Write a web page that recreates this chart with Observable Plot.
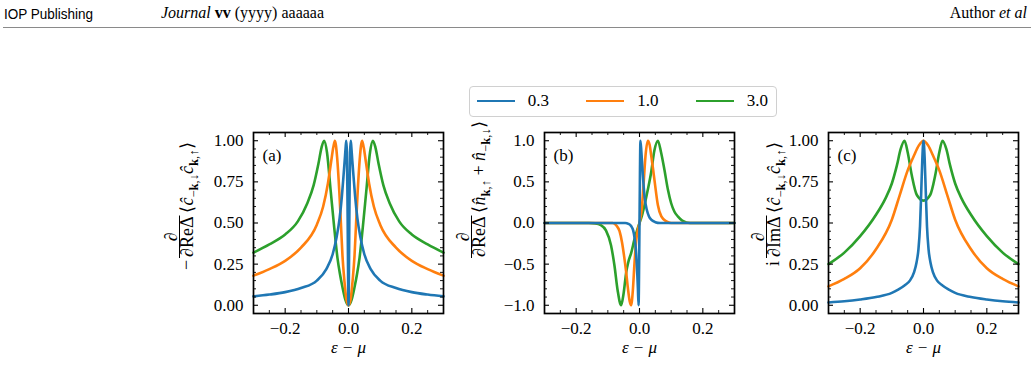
<!DOCTYPE html>
<html><head><meta charset="utf-8">
<script src="https://cdn.jsdelivr.net/npm/d3@7"></script>
<script src="https://cdn.jsdelivr.net/npm/@observablehq/plot@0.6"></script>
<style>
html,body{margin:0;padding:0;background:#fff;}
#page{position:relative;width:1034px;height:391px;overflow:hidden;font-family:"Liberation Serif",serif;color:#000;}
.abs{position:absolute;white-space:nowrap;}
#page svg{overflow:visible}
#page svg text{font-family:"Liberation Serif",serif;}
</style></head><body><div id="page"></div>
<script>
// ---------- data ----------
const seriesNames = ["0.3", "1.0", "3.0"];
const seriesColors = ["#1f77b4", "#ff7f0e", "#2ca02c"];

const xMajor = [-0.2, 0, 0.2];
const xMinor = [-0.25, -0.15, -0.1, -0.05, 0.05, 0.1, 0.15, 0.25];
const yMajorAC = [0, 0.25, 0.5, 0.75, 1];
const yMinorAC = [0.05,0.1,0.15,0.2,0.3,0.35,0.4,0.45,0.55,0.6,0.65,0.7,0.8,0.85,0.9,0.95];
const yMajorB = [-1, -0.5, 0, 0.5, 1];
const yMinorB = [-0.9,-0.8,-0.7,-0.6,-0.4,-0.3,-0.2,-0.1,0.1,0.2,0.3,0.4,0.6,0.7,0.8,0.9];

// panel (a)
const aBlueX = [-0.3,-0.25,-0.2,-0.15,-0.1,-0.07,-0.05,-0.037,-0.028,-0.021,-0.016,-0.012,-0.009,-0.007,-0.005,-0.003,0,0.003,0.005,0.007,0.009,0.012,0.016,0.021,0.028,0.037,0.05,0.07,0.1,0.15,0.2,0.25,0.3];
const aBlueY = [0.054,0.065,0.08,0.105,0.15,0.22,0.31,0.42,0.53,0.66,0.78,0.88,0.96,1.0,0.93,0.6,0,0.6,0.93,1.0,0.96,0.88,0.78,0.66,0.53,0.42,0.31,0.22,0.15,0.105,0.08,0.065,0.054];
const aOrangeX = [-0.3,-0.25,-0.2,-0.15,-0.1,-0.08,-0.065,-0.055,-0.048,-0.043,-0.036,-0.029,-0.024,-0.019,-0.013,-0.007,0,0.007,0.013,0.019,0.024,0.029,0.036,0.043,0.048,0.055,0.065,0.08,0.1,0.15,0.2,0.25,0.3];
const aOrangeY = [0.18,0.22,0.27,0.35,0.49,0.6,0.74,0.87,0.96,1.0,0.9,0.69,0.5,0.3,0.15,0.04,0,0.04,0.15,0.3,0.5,0.69,0.9,1.0,0.96,0.87,0.74,0.6,0.49,0.35,0.27,0.22,0.18];
const aGreenX = [-0.3,-0.25,-0.2,-0.16,-0.13,-0.11,-0.095,-0.085,-0.077,-0.068,-0.056,-0.045,-0.035,-0.027,-0.019,-0.01,0,0.01,0.019,0.027,0.035,0.045,0.056,0.068,0.077,0.085,0.095,0.11,0.13,0.16,0.2,0.25,0.3];
const aGreenY = [0.32,0.37,0.43,0.51,0.62,0.73,0.86,0.96,1.0,0.93,0.69,0.47,0.29,0.19,0.11,0.035,0,0.035,0.11,0.19,0.29,0.47,0.69,0.93,1.0,0.96,0.86,0.73,0.62,0.51,0.43,0.37,0.32];

// panel (b)
const bBlueX = [-0.3,-0.045,-0.035,-0.026,-0.02,-0.016,-0.012,-0.0095,-0.007,-0.005,-0.003,0,0.003,0.006,0.0106,0.016,0.023,0.03,0.037,0.05,0.065,0.3];
const bBlueY = [0,0,-0.01,-0.04,-0.09,-0.17,-0.3,-0.44,-0.62,-0.8,-1.0,0,1.0,0.86,0.58,0.32,0.16,0.08,0.04,0.01,0,0];
const bOrangeX = [-0.3,-0.085,-0.073,-0.063,-0.055,-0.048,-0.042,-0.037,-0.031,-0.0265,-0.021,-0.016,-0.0106,-0.005,0,0.0074,0.0127,0.019,0.0265,0.032,0.037,0.043,0.048,0.058,0.069,0.085,0.1,0.3];
const bOrangeY = [0,0,-0.03,-0.1,-0.24,-0.42,-0.6,-0.78,-0.95,-1.0,-0.82,-0.5,-0.22,-0.08,0,0.18,0.46,0.82,1.0,0.95,0.82,0.65,0.5,0.22,0.08,0.02,0,0];
const bGreenX = [-0.3,-0.16,-0.14,-0.122,-0.106,-0.09,-0.079,-0.069,-0.058,-0.05,-0.042,-0.035,-0.026,-0.016,-0.007,0,0.007,0.016,0.026,0.037,0.047,0.058,0.068,0.079,0.09,0.1,0.11,0.121,0.135,0.16,0.3];
const bGreenY = [0,0,-0.005,-0.025,-0.09,-0.27,-0.52,-0.82,-1.0,-0.85,-0.6,-0.47,-0.36,-0.2,-0.08,0,0.08,0.22,0.4,0.62,0.88,1.0,0.86,0.64,0.4,0.24,0.14,0.08,0.03,0,0];

// panel (c)
const cBlueX = [-0.3,-0.25,-0.2,-0.15,-0.1,-0.08,-0.06,-0.043,-0.03,-0.022,-0.016,-0.011,-0.007,-0.0035,0,0.0035,0.007,0.011,0.016,0.022,0.03,0.043,0.06,0.08,0.1,0.15,0.2,0.25,0.3];
const cBlueY = [0.017,0.024,0.035,0.05,0.075,0.095,0.12,0.15,0.2,0.26,0.34,0.48,0.7,0.9,1.0,0.9,0.7,0.48,0.34,0.26,0.2,0.15,0.12,0.095,0.075,0.05,0.035,0.024,0.017];
const cOrangeX = [-0.3,-0.25,-0.2,-0.15,-0.1,-0.075,-0.05,-0.03,-0.015,0,0.015,0.03,0.05,0.075,0.1,0.15,0.2,0.25,0.3];
const cOrangeY = [0.115,0.16,0.225,0.34,0.52,0.67,0.82,0.91,0.97,1.0,0.97,0.91,0.82,0.67,0.52,0.34,0.225,0.16,0.115];
const cGreenX = [-0.3,-0.25,-0.2,-0.15,-0.12,-0.1,-0.084,-0.072,-0.06,-0.05,-0.037,-0.021,0,0.021,0.037,0.05,0.06,0.072,0.084,0.1,0.12,0.15,0.2,0.25,0.3];
const cGreenY = [0.25,0.32,0.42,0.55,0.65,0.74,0.85,0.95,1.0,0.93,0.79,0.67,0.636,0.67,0.79,0.93,1.0,0.95,0.85,0.74,0.65,0.55,0.42,0.32,0.25];

// ---------- drawing ----------
const page = d3.select("#page");
const FONT = "Liberation Serif";

function pts(xs, ys) { return xs.map((x, i) => ({x, y: ys[i]})); }

function panel({left, yDomain, yMajor, yMinor, yFmt, lines, tag}) {
  const W = 300, H = 270, mL = 100, mR = 10, mT = 32, mB = 57;
  const pw = W - mL - mR, ph = H - mT - mB;
  const marks = [];
  for (let k = lines.length - 1; k >= 0; k--) {
    const [xs, ys] = lines[k];
    marks.push(Plot.line(pts(xs, ys), {x: "x", y: "y", stroke: seriesColors[k], strokeWidth: 2.6, curve: "monotone-x"}));
  }
  marks.push(
    Plot.tickX(xMajor, {insetTop: ph - 5, strokeWidth: 1.1}),
    Plot.tickX(xMajor, {insetBottom: ph - 5, strokeWidth: 1.1}),
    Plot.tickX(xMinor, {insetTop: ph - 3, strokeWidth: 0.9}),
    Plot.tickX(xMinor, {insetBottom: ph - 3, strokeWidth: 0.9}),
    Plot.tickY(yMajor, {insetRight: pw - 5, strokeWidth: 1.1}),
    Plot.tickY(yMajor, {insetLeft: pw - 5, strokeWidth: 1.1}),
    Plot.tickY(yMinor, {insetRight: pw - 3, strokeWidth: 0.9}),
    Plot.tickY(yMinor, {insetLeft: pw - 3, strokeWidth: 0.9}),
    Plot.frame({stroke: "#000", strokeWidth: 1.7}),
    Plot.axisX(xMajor, {tickSize: 0, tickPadding: 8, tickFormat: d3.format(".1f"), label: null, fontSize: 17}),
    Plot.axisY(yMajor, {tickSize: 0, tickPadding: 10, tickFormat: d3.format(yFmt), label: null, fontSize: 17}),
    Plot.text([tag], {frameAnchor: "top-left", dx: 9, dy: 16, textAnchor: "start", fontSize: 17}),
    Plot.text(["ε − μ"], {frameAnchor: "bottom", dy: 39, fontStyle: "italic", fontSize: 17})
  );
  const chart = Plot.plot({
    width: W, height: H, marginLeft: mL, marginRight: mR, marginTop: mT, marginBottom: mB,
    x: {domain: [-0.3, 0.3]}, y: {domain: yDomain},
    style: {fontFamily: FONT, fontSize: "17px", background: "transparent", color: "#000"},
    marks
  });
  page.append("div").attr("class", "abs").style("left", left + "px").style("top", "100px").node().appendChild(chart);
}

panel({left: 152.7, yDomain: [-0.05, 1.05], yMajor: yMajorAC, yMinor: yMinorAC, yFmt: ".2f",
  lines: [[aBlueX, aBlueY], [aOrangeX, aOrangeY], [aGreenX, aGreenY]], tag: "(a)"});
panel({left: 444.3, yDomain: [-1.1, 1.1], yMajor: yMajorB, yMinor: yMinorB, yFmt: ".1f",
  lines: [[bBlueX, bBlueY], [bOrangeX, bOrangeY], [bGreenX, bGreenY]], tag: "(b)"});
panel({left: 728.3, yDomain: [-0.05, 1.05], yMajor: yMajorAC, yMinor: yMinorAC, yFmt: ".2f",
  lines: [[cBlueX, cBlueY], [cOrangeX, cOrangeY], [cGreenX, cGreenY]], tag: "(c)"});

// ---------- header ----------
page.append("div").attr("class", "abs")
  .style("left", "4px").style("top", "5px").style("font-family", '"Liberation Sans Narrow","Liberation Sans",sans-serif')
  .style("font-size", "15px").style("transform", "scaleX(0.9)").style("transform-origin", "0 0").text("IOP Publishing");
page.append("div").attr("class", "abs")
  .style("left", "161px").style("top", "4px").style("font-size", "16px")
  .html('<i>Journal</i> <b>vv</b> (yyyy) aaaaaa');
page.append("div").attr("class", "abs")
  .style("right", "7px").style("top", "4px").style("font-size", "16px")
  .html('Author <i>et al</i>');
page.append("div").attr("class", "abs")
  .style("left", "3px").style("top", "27px").style("width", "1028px").style("height", "1px").style("background", "#8a8a8a");

// ---------- legend ----------
const legend = page.append("div").attr("class", "abs")
  .style("left", "469px").style("top", "86px").style("width", "306px").style("height", "29px")
  .style("border", "1px solid #d0d0d0").style("border-radius", "4px").style("background", "#fff");
seriesNames.forEach((name, i) => {
  const x0 = 6.7 + i * 109.5;
  legend.append("div").attr("class", "abs")
    .style("left", x0 + "px").style("top", "12.5px").style("width", "38px").style("height", "2.6px")
    .style("background", seriesColors[i]);
  legend.append("div").attr("class", "abs")
    .style("left", (x0 + 51) + "px").style("top", "4px").style("font-size", "17px").style("line-height", "20px")
    .text(name);
});

// ---------- rotated y labels ----------
const ov = page.append("svg").attr("class", "abs").attr("width", 1034).attr("height", 391)
  .style("left", "0px").style("top", "0px").style("pointer-events", "none")
  .attr("font-family", FONT).attr("fill", "#000");

function mathText(parent, x, y, parts, size) {
  const t = parent.append("text").attr("x", x).attr("y", y).attr("font-size", size);
  let cur = 0;
  for (const p of parts) {
    const [s, o] = Array.isArray(p) ? p : [p, {}];
    const shift = o.sub ? size * 0.28 : 0;
    const ts = t.append("tspan").text(s).attr("dy", shift - cur);
    cur = shift;
    if (o.sub) ts.attr("font-size", size * 0.7);
    if (o.it) ts.attr("font-style", "italic");
    if (o.b) ts.attr("font-weight", "bold");
  }
  return t;
}

function yLabel({bx, prefix, prefixStart, fracStart, op, bracket}) {
  const cy = 222, S = 18;
  const g = ov.append("g").attr("transform", `translate(${bx},${cy}) rotate(-90)`);
  if (prefix) mathText(g, cy - prefixStart, 0, prefix, S);
  const u1 = cy - fracStart;
  const den = mathText(g, u1, 1, [["∂", {it: true}], op, "Δ"], S);
  const wd = den.node().getComputedTextLength();
  mathText(g, u1 + wd / 2, -15.5, [["∂", {it: true}]], S).attr("text-anchor", "middle");
  g.append("line").attr("x1", u1 - 1).attr("x2", u1 + wd + 1).attr("y1", -12.5).attr("y2", -12.5)
    .attr("stroke", "#000").attr("stroke-width", 1);
  mathText(g, u1 + wd + 4, 1, bracket, S);
}

const brC = ["⟨", ["ĉ", {it: true}], ["−", {sub: true}], ["k", {sub: true, b: true}], [",↓", {sub: true}],
             ["ĉ", {it: true}], ["k", {sub: true, b: true}], [",↑", {sub: true}], "⟩"];
const brN = ["⟨", ["n̂", {it: true}], ["k", {sub: true, b: true}], [",↑", {sub: true}], " + ",
             ["n̂", {it: true}], ["−", {sub: true}], ["k", {sub: true, b: true}], [",↓", {sub: true}], "⟩"];

yLabel({bx: 192, prefix: ["−"], prefixStart: 270, fracStart: 257, op: "Re", bracket: brC});
yLabel({bx: 484, prefix: null, fracStart: 257, op: "Re", bracket: brN});
yLabel({bx: 779, prefix: ["i"], prefixStart: 266, fracStart: 257, op: "Im", bracket: brC});
</script></body></html>
